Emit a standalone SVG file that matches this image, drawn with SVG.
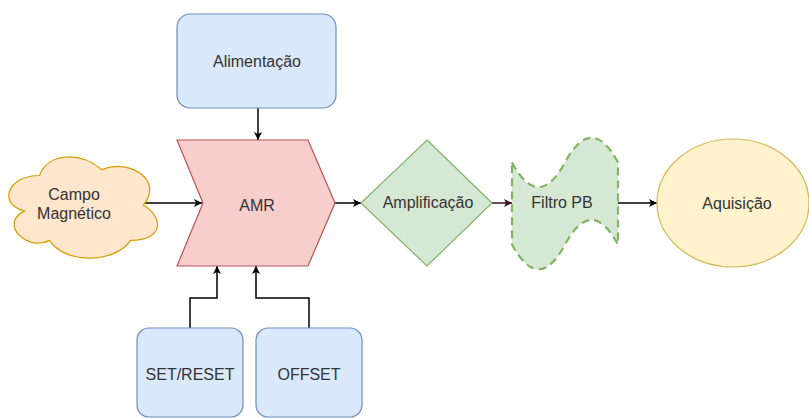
<svg xmlns="http://www.w3.org/2000/svg" width="809" height="418" viewBox="0 0 809 418">
  <style>
    text { font-family: "Liberation Sans", Arial, sans-serif; font-size: 16px; fill: #333333; text-anchor: middle; }
    .blue { fill: #dae8fc; stroke: #6c8ebf; stroke-width: 1.2; }
    .red { fill: #f8cecc; stroke: #b85450; stroke-width: 1.2; }
    .green { fill: #d5e8d4; stroke: #82b366; stroke-width: 1.2; }
    .dashed { fill: #d5e8d4; stroke: #82b366; stroke-width: 2.2; stroke-dasharray: 8 5; }
    .orange { fill: #ffe6cc; stroke: #d79b00; stroke-width: 1.2; }
    .yellow { fill: #fff2cc; stroke: #d6b656; stroke-width: 1.2; }
    .edge { fill: none; stroke: #000000; stroke-width: 1.5; marker-end: url(#arrow); }
    .edge-dark { fill: none; stroke: #3a1020; stroke-width: 1.5; marker-end: url(#arrow-dark); }
  </style>
  <defs>
    <marker id="arrow" markerUnits="userSpaceOnUse" markerWidth="10" markerHeight="10" refX="9" refY="5" orient="auto">
      <path d="M1,1 L9,5 L1,9 L3,5 Z" fill="#000000"/>
    </marker>
    <marker id="arrow-dark" markerUnits="userSpaceOnUse" markerWidth="10" markerHeight="10" refX="9" refY="5" orient="auto">
      <path d="M1,1 L9,5 L1,9 L3,5 Z" fill="#3a1020"/>
    </marker>
  </defs>

  <rect width="809" height="418" fill="#ffffff"/>

  <!-- connectors -->
  <g id="connectors">
    <path class="edge" d="M258,108 V140"/>
    <path class="edge" d="M143,203 H202"/>
    <path class="edge" d="M335,203 H361"/>
    <path class="edge-dark" d="M492,203 H512"/>
    <path class="edge" d="M618,203 H657"/>
    <path class="edge" d="M190,328 V298 H217 V266"/>
    <path class="edge" d="M309,328 V298 H256 V266"/>
  </g>

  <!-- power supply -->
  <g id="alimentacao">
    <rect class="blue" x="177" y="14" width="159" height="94" rx="13" ry="13"/>
    <text x="257" y="67">Alimentação</text>
  </g>

  <!-- magnetic field source -->
  <g id="campo">
    <path class="orange" d="M39.5,175.5 C6.3,175.5 -2,205 24.6,210.9 C-2,223.9 27.9,252.2 49.5,240.4 C64.4,264 114.2,264 130.8,240.4 C164,240.4 164,216.8 143.25,205 C164,181.4 130.8,157.8 101.75,169.6 C81,151.9 47.8,151.9 39.5,175.5 Z"/>
    <text x="74" y="200">Campo</text>
    <text x="74" y="219">Magnético</text>
  </g>

  <!-- sensor -->
  <g id="amr">
    <polygon class="red" points="177,140 308,140 335,203 308,266 177,266 203,203"/>
    <text x="257" y="211">AMR</text>
  </g>

  <!-- amplifier -->
  <g id="amplificacao">
    <polygon class="green" points="427,140 492,203 427,266 361,203"/>
    <text x="428" y="208">Amplificação</text>
  </g>

  <!-- low-pass filter -->
  <g id="filtro">
    <path class="dashed" d="M512,162.4 Q538.5,211.7 565,162.4 Q591.5,113.1 618,162.4 L618,244.6 Q591.5,195.3 565,244.6 Q538.5,293.9 512,244.6 Z"/>
    <text x="562" y="208">Filtro PB</text>
  </g>

  <!-- acquisition -->
  <g id="aquisicao">
    <ellipse class="yellow" cx="733" cy="203" rx="76" ry="64"/>
    <text x="737" y="209">Aquisição</text>
  </g>

  <!-- control inputs -->
  <g id="setreset">
    <rect class="blue" x="137" y="328" width="106" height="89" rx="12" ry="12"/>
    <text x="190" y="380">SET/RESET</text>
  </g>
  <g id="offset">
    <rect class="blue" x="256" y="328" width="106" height="89" rx="12" ry="12"/>
    <text x="309" y="380">OFFSET</text>
  </g>
</svg>
